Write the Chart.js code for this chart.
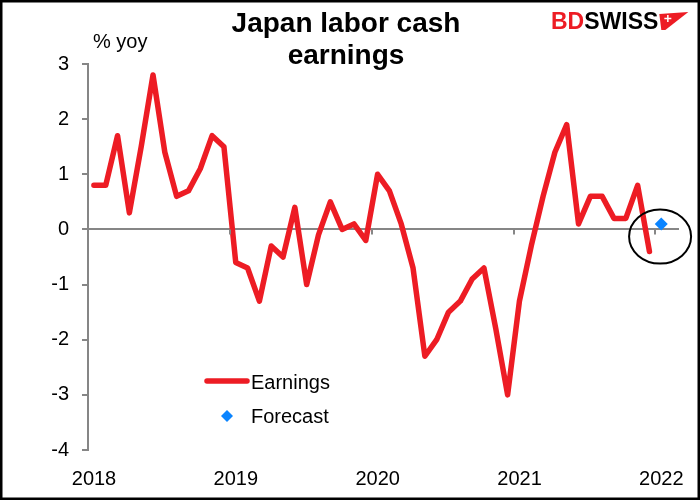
<!DOCTYPE html>
<html>
<head>
<meta charset="utf-8">
<script src="https://cdn.jsdelivr.net/npm/chart.js@4/dist/chart.umd.min.js"></script>
<style>
  html, body { margin: 0; padding: 0; background: #fff; }
  #chart { display: block; }
</style>
</head>
<body>
<canvas id="chart" width="700" height="500" style="width:700px;height:500px"></canvas>
<script>
// tick labels on the time axis (one per January)
const yearLabels = ["2018", "2019", "2020", "2021", "2022"];
const monthNames = ["Jan", "Feb", "Mar", "Apr", "May", "Jun", "Jul", "Aug", "Sep", "Oct", "Nov", "Dec"];

// labor cash earnings, % yoy, Jan..Dec of each year
const earnings2018 = [0.8, 0.8, 1.7, 0.3, 1.5, 2.8, 1.4, 0.6, 0.7, 1.1, 1.7, 1.5];
const earnings2019 = [-0.6, -0.7, -1.3, -0.3, -0.5, 0.4, -1.0, -0.1, 0.5, 0.0, 0.1, -0.2];
const earnings2020 = [1.0, 0.7, 0.1, -0.7, -2.3, -2.0, -1.5, -1.3, -0.9, -0.7, -1.8, -3.0];
const earnings2021 = [-1.3, -0.3, 0.6, 1.4, 1.9, 0.1, 0.6, 0.6, 0.2, 0.2, 0.8, -0.4];
const earnings = [].concat(earnings2018, earnings2019, earnings2020, earnings2021);

// forecast for Jan 2022
const forecastMonthIndex = 48;
const forecastValue = [0.1];

const yTicks = [3, 2, 1, 0, -1, -2, -3, -4];

const months = [];
yearLabels.slice(0, 4).forEach(y => monthNames.forEach(m => months.push(m + " " + y)));

// points sit in the middle of their month on the time axis
const earningsPoints = earnings.map((v, i) => ({ x: i + 0.5, y: v }));
const forecastPoints = forecastValue.map(v => ({ x: forecastMonthIndex + 0.5, y: v }));

const RED = "#ED1C24";
const BLUE = "#0A84FF";
const GREY = "#868686";
const FONT = "'Liberation Sans', Arial, sans-serif";

const extras = {
  id: "extras",
  beforeDraw(chart) {
    const ctx = chart.ctx;
    ctx.save();
    ctx.fillStyle = "#fff";
    ctx.fillRect(0, 0, chart.width, chart.height);
    ctx.restore();
  },
  afterDatasetsDraw(chart) {
    const ctx = chart.ctx;
    const xs = chart.scales.x, ys = chart.scales.y;
    const y0 = ys.getPixelForValue(0);
    ctx.save();
    // year tick marks on the zero line
    ctx.strokeStyle = GREY;
    ctx.lineWidth = 2;
    xs.ticks.forEach(t => {
      if (t.value === 0) return;
      const px = Math.round(xs.getPixelForValue(t.value));
      ctx.beginPath();
      ctx.moveTo(px, y0);
      ctx.lineTo(px, y0 + 5);
      ctx.stroke();
    });
    // circle round the latest print and the forecast
    ctx.strokeStyle = "#000";
    ctx.lineWidth = 2;
    ctx.beginPath();
    ctx.ellipse(xs.getPixelForValue(48.4), ys.getPixelForValue(-0.13), 31, 27, 0, 0, Math.PI * 2);
    ctx.stroke();
    ctx.restore();
  },
  afterDraw(chart) {
    const ctx = chart.ctx;
    ctx.save();
    // title
    ctx.fillStyle = "#000";
    ctx.textAlign = "center";
    ctx.textBaseline = "alphabetic";
    ctx.font = "bold 28px " + FONT;
    ctx.fillText("Japan labor cash", 346, 32);
    ctx.fillText("earnings", 346, 64);
    // unit
    ctx.font = "20px " + FONT;
    ctx.textAlign = "left";
    ctx.fillText("% yoy", 93, 48);

    // legend
    ctx.strokeStyle = RED;
    ctx.lineWidth = 5.5;
    ctx.lineCap = "round";
    ctx.beginPath();
    ctx.moveTo(207, 381);
    ctx.lineTo(247, 381);
    ctx.stroke();
    ctx.fillStyle = BLUE;
    ctx.beginPath();
    ctx.moveTo(227, 410);
    ctx.lineTo(233, 416);
    ctx.lineTo(227, 422);
    ctx.lineTo(221, 416);
    ctx.closePath();
    ctx.fill();
    ctx.fillStyle = "#000";
    ctx.textBaseline = "middle";
    ctx.fillText("Earnings", 251, 383);
    ctx.fillText("Forecast", 251, 417);

    // logo
    ctx.textBaseline = "alphabetic";
    ctx.font = "bold 23px " + FONT;
    ctx.fillStyle = RED;
    ctx.fillText("BD", 551, 29);
    const bdW = ctx.measureText("BD").width;
    ctx.fillStyle = "#000";
    ctx.fillText("SWISS", 551 + bdW, 29);
    const sx = 551 + bdW + ctx.measureText("SWISS").width + 1;
    ctx.fillStyle = RED;
    ctx.beginPath();
    ctx.moveTo(sx, 14);
    ctx.lineTo(sx + 29, 12);
    ctx.lineTo(sx + 6, 30);
    ctx.lineTo(sx + 2, 30);
    ctx.closePath();
    ctx.fill();
    ctx.strokeStyle = "#fff";
    ctx.lineWidth = 1.5;
    ctx.lineCap = "butt";
    ctx.beginPath();
    ctx.moveTo(sx + 5, 18.5); ctx.lineTo(sx + 12, 18.5);
    ctx.moveTo(sx + 8.5, 15); ctx.lineTo(sx + 8.5, 22);
    ctx.stroke();

    // frame
    ctx.strokeStyle = "#000";
    ctx.lineWidth = 2.5;
    ctx.strokeRect(1.25, 1.25, chart.width - 2.5, chart.height - 2.5);
    ctx.restore();
  }
};

new Chart(document.getElementById("chart"), {
  type: "line",
  data: {
    labels: months,
    datasets: [
      {
        label: "Earnings",
        data: earningsPoints,
        borderColor: RED,
        backgroundColor: RED,
        borderWidth: 5.5,
        borderJoinStyle: "round",
        borderCapStyle: "round",
        pointRadius: 0,
        tension: 0,
        fill: false
      },
      {
        label: "Forecast",
        data: forecastPoints,
        showLine: false,
        pointStyle: "rectRot",
        pointRadius: 6.5,
        pointBackgroundColor: BLUE,
        pointBorderWidth: 0
      }
    ]
  },
  options: {
    responsive: false,
    animation: false,
    layout: { padding: { top: 64, right: 21, left: 0, bottom: 0 } },
    plugins: {
      legend: { display: false },
      tooltip: { enabled: false }
    },
    scales: {
      x: {
        type: "linear",
        min: 0,
        max: 50,
        afterBuildTicks: s => { s.ticks = yearLabels.map((y, i) => ({ value: i * 12 })); },
        afterFit: s => { s.height = 50; },
        grid: { display: false },
        border: { display: false },
        ticks: {
          autoSkip: false,
          maxRotation: 0,
          labelOffset: 6,
          padding: 9,
          color: "#000",
          font: { family: FONT, size: 20 },
          callback: v => yearLabels[v / 12]
        }
      },
      y: {
        min: -4,
        max: 3,
        afterBuildTicks: s => { s.ticks = yTicks.map(v => ({ value: v })); },
        afterFit: s => { s.width = 88; },
        border: { color: GREY, width: 2 },
        grid: {
          color: c => (c.tick && c.tick.value === 0 ? GREY : "rgba(0,0,0,0)"),
          lineWidth: 2,
          tickColor: GREY,
          tickLength: 6
        },
        ticks: {
          padding: 13,
          color: "#000",
          font: { family: FONT, size: 20 }
        }
      }
    }
  },
  plugins: [extras]
});
</script>
</body>
</html>
